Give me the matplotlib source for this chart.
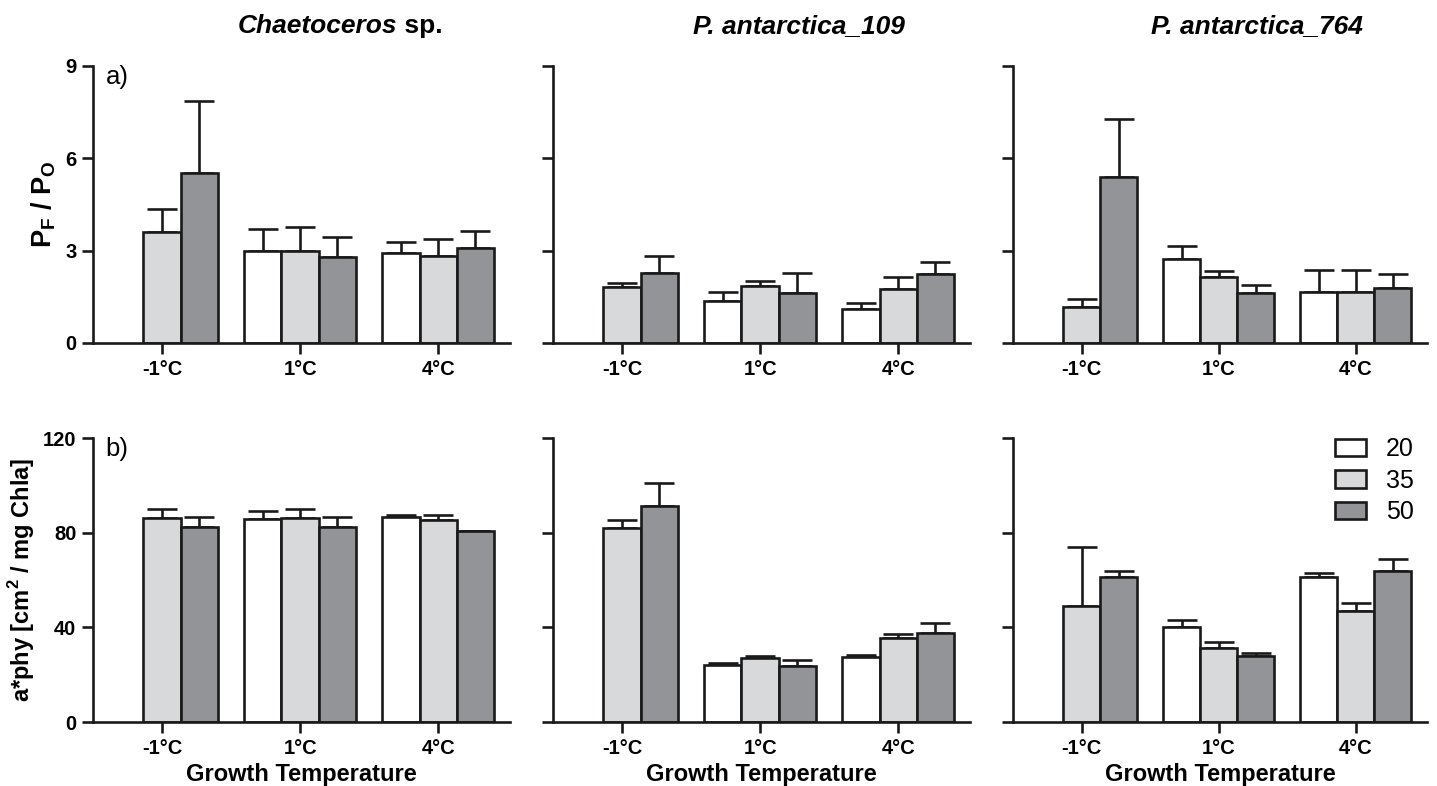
import numpy as np
import matplotlib
matplotlib.use('Agg')
import matplotlib.pyplot as plt
from matplotlib.patches import Patch

nan = np.nan

temps = ['-1°C', '1°C', '4°C']
salinity = ['20', '35', '50']
species = ['Chaetoceros', 'P. antarctica_109', 'P. antarctica_764']

# rows = salinity (20, 35, 50), columns = growth temperature (-1, 1, 4)
pfpo_chaet = [[nan, 2.99, 2.93], [3.60, 3.00, 2.83], [5.51, 2.81, 3.10]]
pfpo_chaet_sd = [[nan, 0.72, 0.34], [0.74, 0.77, 0.55], [2.35, 0.64, 0.55]]
pfpo_109 = [[nan, 1.35, 1.11], [1.83, 1.84, 1.76], [2.29, 1.64, 2.25]]
pfpo_109_sd = [[nan, 0.31, 0.20], [0.11, 0.18, 0.38], [0.53, 0.62, 0.37]]
pfpo_764 = [[nan, 2.74, 1.66], [1.17, 2.15, 1.66], [5.39, 1.61, 1.79]]
pfpo_764_sd = [[nan, 0.40, 0.71], [0.25, 0.20, 0.72], [1.89, 0.26, 0.44]]

aphy_chaet = [[nan, 85.8, 86.7], [86.0, 86.0, 85.4], [82.4, 82.4, 80.5]]
aphy_chaet_sd = [[nan, 3.4, 0.8], [3.9, 3.9, 2.1], [4.3, 4.3, 0.4]]
aphy_109 = [[nan, 24.2, 27.5], [81.8, 26.9, 35.4], [91.2, 23.5, 37.6]]
aphy_109_sd = [[nan, 0.6, 0.9], [3.5, 1.1, 1.6], [9.8, 2.9, 4.3]]
aphy_764 = [[nan, 40.2, 61.1], [49.0, 31.3, 47.1], [61.1, 27.8, 63.8]]
aphy_764_sd = [[nan, 3.0, 2.0], [24.9, 2.6, 3.3], [2.9, 1.2, 5.2]]

colors = ['#ffffff', '#d8d9db', '#939497']

plt.rcParams['font.family'] = ['Liberation Sans', 'DejaVu Sans']
plt.rcParams['mathtext.fontset'] = 'custom'
plt.rcParams['mathtext.rm'] = 'Liberation Sans'
plt.rcParams['mathtext.bf'] = 'Liberation Sans:bold'

LW = 1.9
INK = '#1a1a1a'
fig = plt.figure(figsize=(14.37, 7.86), dpi=100)

lefts = [93, 553, 1013]
rights = [510, 970, 1427]
W, H = 1437, 786
top_row = (66, 343)
bot_row = (438, 722)

top_data = [(pfpo_chaet, pfpo_chaet_sd), (pfpo_109, pfpo_109_sd), (pfpo_764, pfpo_764_sd)]
bot_data = [(aphy_chaet, aphy_chaet_sd), (aphy_109, aphy_109_sd), (aphy_764, aphy_764_sd)]


def draw_panel(ax, vals, sds, ymax, yticks, show_ylabels):
    x = np.arange(len(temps))
    w = 0.27
    for i in range(len(salinity)):
        v = np.array(vals[i], dtype=float)
        s = np.array(sds[i], dtype=float)
        xi = x + (i - 1) * w
        ax.errorbar(xi, v, yerr=[np.zeros_like(s), s], fmt='none', ecolor=INK,
                    elinewidth=LW, capsize=10.5, capthick=LW, zorder=1)
        ax.bar(xi, v, width=w, color=colors[i], edgecolor=INK, linewidth=LW, zorder=2)
    ax.set_xlim(-0.5, 2.52)
    ax.set_ylim(0, ymax)
    ax.set_xticks(x)
    ax.set_xticklabels(temps)
    ax.set_yticks(yticks)
    if not show_ylabels:
        ax.set_yticklabels([])
    for sp in ['top', 'right']:
        ax.spines[sp].set_visible(False)
    for sp in ['left', 'bottom']:
        ax.spines[sp].set_linewidth(LW)
        ax.spines[sp].set_color(INK)
    ax.tick_params(direction='out', length=8, width=LW, color=INK, labelsize=14.5, pad=4)
    for lab in ax.get_xticklabels() + ax.get_yticklabels():
        lab.set_fontweight('bold')


for j in range(3):
    l = lefts[j] / W
    w = (rights[j] - lefts[j]) / W
    ax = fig.add_axes([l, 1 - top_row[1] / H, w, (top_row[1] - top_row[0]) / H])
    draw_panel(ax, top_data[j][0], top_data[j][1], 9, [0, 3, 6, 9], j == 0)
    if j == 0:
        t = ax.text(0.73, 1.12, 'Chaetoceros', transform=ax.transAxes, ha='right', va='baseline',
                    fontsize=19, fontweight='bold', fontstyle='italic')
        ax.annotate(' sp.', xy=(1, 0), xycoords=t, ha='left', va='bottom',
                    fontsize=19, fontweight='bold')
        ax.text(0.03, 1.005, 'a)', transform=ax.transAxes, ha='left', va='top', fontsize=18.5)
        ax.set_ylabel(r'P$_\mathbf{F}$ / P$_\mathbf{O}$', fontsize=19.5, fontweight='bold')
        ax.yaxis.set_label_coords(-0.084, 0.5)
    else:
        ax.text(0.59, 1.12, species[j], transform=ax.transAxes, ha='center', va='baseline',
                fontsize=19, fontweight='bold', fontstyle='italic')

    ax2 = fig.add_axes([l, 1 - bot_row[1] / H, w, (bot_row[1] - bot_row[0]) / H])
    draw_panel(ax2, bot_data[j][0], bot_data[j][1], 120, [0, 40, 80, 120], j == 0)
    ax2.set_xlabel('Growth Temperature', fontsize=17, fontweight='bold', labelpad=4)
    if j == 0:
        ax2.text(0.03, 1.005, 'b)', transform=ax2.transAxes, ha='left', va='top', fontsize=18.5)
        ax2.set_ylabel(r'a*phy [cm$^\mathbf{2}$ / mg Chla]', fontsize=17, fontweight='bold')
        ax2.yaxis.set_label_coords(-0.134, 0.5)
    if j == 2:
        handles = [Patch(facecolor=colors[i], edgecolor=INK, linewidth=LW) for i in range(3)]
        ax2.legend(handles, salinity, loc='upper right', bbox_to_anchor=(0.968, 1.003), frameon=False,
                   fontsize=18, handlelength=1.25, handleheight=0.7, labelspacing=0.3,
                   handletextpad=0.8, borderaxespad=0, borderpad=0)

fig.savefig('out.png', dpi=100)
